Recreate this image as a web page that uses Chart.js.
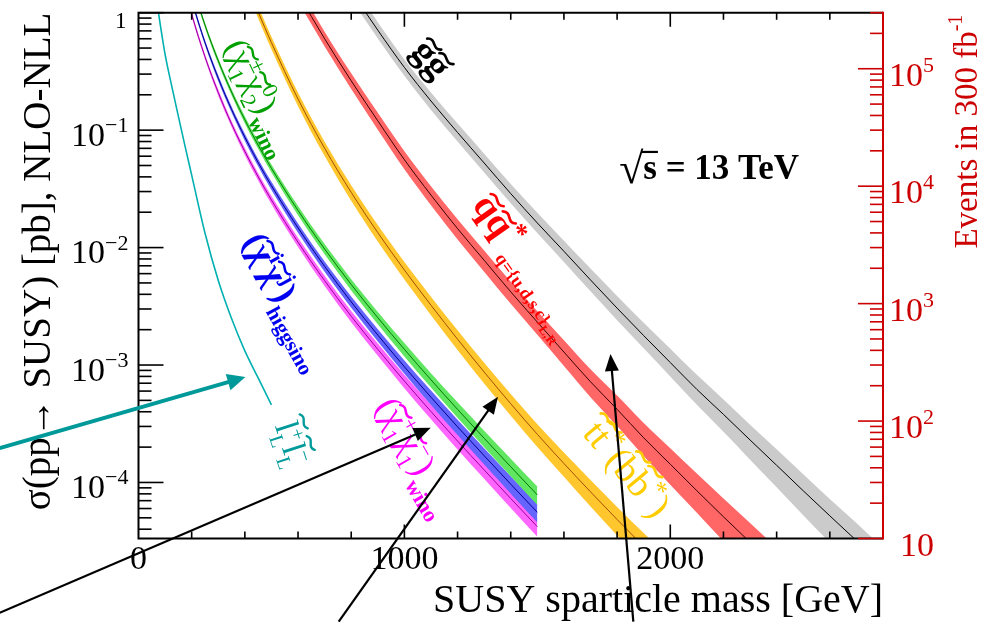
<!DOCTYPE html>
<html>
<head>
<meta charset="utf-8">
<script src="https://cdn.jsdelivr.net/npm/chart.js@4/dist/chart.umd.min.js"></script>
<style>
  html, body { margin: 0; padding: 0; background: #fff; }
  canvas { display: block; }
</style>
</head>
<body>
<canvas id="c" width="997" height="622"></canvas>
<script>
// SUSY pair-production cross sections at sqrt(s) = 13 TeV (NLO-NLL), in pb, vs sparticle mass in GeV.
// Bands: relative scale+PDF uncertainty in percent (upper / lower).

// gluino pairs
const massGluino   = [800, 900, 1000, 1100, 1200, 1300, 1400, 1500, 1600, 1700, 1800, 1900, 2000, 2100, 2200, 2300, 2400, 2500, 2600, 2700, 2800];
const xsecGluino   = [1.53, 0.71, 0.342, 0.177, 0.0955, 0.0525, 0.0288, 0.0162, 0.0093, 0.0053, 0.00305, 0.00178, 0.00105, 0.00062, 0.00038, 0.00023, 0.00014, 0.000085, 0.000052, 0.000032, 0.0000195];
const uncUpGluino  = [17, 17, 17, 18, 19, 20, 21, 22, 23, 25, 27, 29, 31, 33, 34, 35, 37, 38, 39, 41, 42];
const uncDnGluino  = [15, 15, 15, 16, 16, 17, 17, 18, 19, 20, 21, 22, 24, 26, 29, 32, 35, 38, 41, 45, 48];

// squark-antisquark, q = u,d,s,c (L,R)
const massSquark   = [600, 700, 800, 900, 1000, 1100, 1200, 1300, 1400, 1500, 1600, 1700, 1800, 1900, 2000, 2100, 2200, 2300, 2400];
const xsecSquark   = [1.45, 0.60, 0.263, 0.12, 0.056, 0.028, 0.0145, 0.0078, 0.0042, 0.00232, 0.00129, 0.00072, 0.00042, 0.00024, 0.000143, 0.000085, 0.000051, 0.000031, 0.0000186];
const uncUpSquark  = [15, 15, 16, 17, 18, 19, 20, 21, 22, 24, 26, 28, 31, 34, 37, 40, 43, 46, 49];
const uncDnSquark  = [14, 14, 15, 16, 17, 18, 19, 20, 21, 22, 24, 26, 28, 30, 33, 35, 38, 41, 44];

// stop (sbottom) pairs
const massStop     = [400, 450, 500, 600, 700, 800, 900, 1000, 1100, 1200, 1300, 1400, 1500, 1600, 1700, 1800, 1900, 2000];
const xsecStop     = [2.0, 1.02, 0.556, 0.184, 0.070, 0.0295, 0.0134, 0.00644, 0.00323, 0.00166, 0.000871, 0.000468, 0.000257, 0.000145, 0.0000832, 0.0000484, 0.0000285, 0.0000170];
const uncUpStop    = [12, 12, 12, 13, 14, 15, 16, 17, 18, 19, 20, 21, 22, 24, 26, 28, 30, 32];
const uncDnStop    = [12, 12, 12, 13, 14, 15, 16, 17, 18, 19, 20, 21, 22, 23, 25, 27, 29, 31];

// electroweakinos
const massEwk      = [150, 200, 250, 300, 350, 400, 450, 500, 600, 700, 800, 900, 1000, 1100, 1200, 1300, 1400, 1500];
const xsecWinoC1N2 = [5.01, 1.81, 0.785, 0.389, 0.211, 0.1225, 0.0746, 0.0473, 0.0207, 0.00973, 0.00485, 0.00253, 0.00136, 0.000748, 0.000419, 0.000238, 0.000136, 0.0000783];
const xsecHiggsino = [3.56, 1.29, 0.558, 0.277, 0.150, 0.0871, 0.0530, 0.0336, 0.0147, 0.00692, 0.00345, 0.00180, 0.000967, 0.000532, 0.000298, 0.000169, 0.0000967, 0.0000557];
const xsecWinoC1C1 = [2.69, 0.972, 0.422, 0.209, 0.113, 0.0658, 0.0401, 0.0254, 0.0111, 0.00523, 0.00260, 0.00136, 0.000730, 0.000402, 0.000225, 0.000128, 0.0000730, 0.0000420];
const uncEwk       = [5, 5, 5, 6, 6, 7, 7, 8, 9, 10, 11, 12, 13, 14, 15, 16, 17, 18];

// left-handed sleptons
const massSlepton  = [60, 75, 100, 125, 150, 175, 200, 250, 300, 350, 400, 450, 500];
const xsecSlepton  = [1.66, 1.0, 0.442, 0.237, 0.131, 0.0731, 0.0414, 0.0133, 0.00525, 0.00249, 0.00132, 0.000776, 0.000457];

// axes
const massAxisMax    = 2800;
const lumiInvPb      = 300000;   // 300 fb^-1
const eventsAxisMin  = 10;
const xsecAxisMax    = 1;
const massTickStep   = 200;
const massLabelTicks = [0, 1000, 2000];
const xsecDecades    = [-4, -3, -2, -1, 0];
const eventsDecades  = [1, 2, 3, 4, 5];

// arrows pointing at the curves: [mass, xsec] tail -> head
const arrowTails = [[-522, 7.78e-6], [753, 6.53e-6], [1861, 6.53e-6], [-522, 1.96e-4]];
const arrowHeads = [[1099, 2.92e-4], [1352, 5.36e-4], [1775, 1.24e-3], [402, 7.89e-4]];

// ------------------------------------------------------------------
const SERIF = '"Liberation Serif", "Times New Roman", serif';
const RED_AXIS = '#cc0000';
function F(size, bold, italic) { return (italic ? 'italic ' : '') + (bold ? 'bold ' : '') + size + 'px ' + SERIF; }

function pts(m, s) { return m.map((v, i) => ({ x: v, y: s[i] })); }
function shifted(m, s, pct, sign) { return m.map((v, i) => ({ x: v, y: s[i] * (1 + sign * pct[i] / 100) })); }

function bandSets(m, s, up, dn, fillColor, lineColor, lineW, ord) {
  const common = { pointRadius: 0, pointHoverRadius: 0, cubicInterpolationMode: 'monotone' };
  return [
    Object.assign({ data: shifted(m, s, up, 1), borderWidth: 0, borderColor: 'transparent', backgroundColor: fillColor, fill: '+1', order: ord }, common),
    Object.assign({ data: shifted(m, s, dn, -1), borderWidth: 0, borderColor: 'transparent', fill: false, order: ord }, common),
    Object.assign({ data: pts(m, s), borderColor: lineColor, borderWidth: lineW, fill: false, order: ord - 0.5 }, common)
  ];
}

const datasets = [].concat(
  bandSets(massGluino, xsecGluino, uncUpGluino, uncDnGluino, '#cbcbcb', '#000000', 1, 10),
  bandSets(massSquark, xsecSquark, uncUpSquark, uncDnSquark, '#ff6666', '#3a0000', 1, 9),
  bandSets(massStop, xsecStop, uncUpStop, uncDnStop, '#ffc62e', '#a34f00', 1, 8),
  bandSets(massEwk, xsecWinoC1C1, uncEwk, uncEwk, '#ff66ff', '#990099', 1, 7),
  bandSets(massEwk, xsecHiggsino, uncEwk, uncEwk, '#6464ff', '#00008a', 1, 6),
  bandSets(massEwk, xsecWinoC1N2, uncEwk, uncEwk, '#60e660', '#007a00', 1, 5),
  [{ data: pts(massSlepton, xsecSlepton), borderColor: '#00b0b0', borderWidth: 1.6, fill: false, order: 4,
     pointRadius: 0, pointHoverRadius: 0, cubicInterpolationMode: 'monotone' }]
);

// ---- rich text (tildes, super/subscripts) ----
function drawTilde(ctx, cx, yb, size, h) {
  const w = size * 0.46, a = size * 0.08, yT = yb - size * h;
  ctx.save();
  ctx.lineWidth = Math.max(1.4, size * 0.07);
  ctx.strokeStyle = ctx.fillStyle;
  ctx.lineCap = 'round';
  ctx.beginPath();
  ctx.moveTo(cx - w / 2, yT + a * 0.6);
  ctx.bezierCurveTo(cx - w / 6, yT - a * 2.0, cx + w / 6, yT + a * 2.0, cx + w / 2, yT - a * 0.6);
  ctx.stroke();
  ctx.restore();
}
function segWidth(ctx, s) {
  if (s.sup !== undefined || s.sub !== undefined) {
    ctx.font = F(s.s, s.b);
    const a = s.sup ? ctx.measureText(s.sup).width : 0;
    const b = s.sub ? ctx.measureText(s.sub).width : 0;
    return Math.max(a, b) + (s.gap || 1);
  }
  ctx.font = F(s.s, s.b, s.i);
  return ctx.measureText(s.t).width;
}
function drawRich(ctx, segs, px, py, angle, color, base) {
  ctx.save();
  ctx.translate(px, py);
  ctx.rotate(angle * Math.PI / 180);
  ctx.fillStyle = color;
  ctx.textAlign = 'left';
  ctx.textBaseline = 'alphabetic';
  let W = 0;
  for (const s of segs) W += segWidth(ctx, s);
  let x = -W / 2;
  for (const s of segs) {
    const w = segWidth(ctx, s);
    if (s.sup !== undefined || s.sub !== undefined) {
      ctx.font = F(s.s, s.b);
      if (s.sup) ctx.fillText(s.sup, x, base + (s.supDy !== undefined ? s.supDy : -s.s * 0.65));
      if (s.sub) ctx.fillText(s.sub, x, base + (s.subDy !== undefined ? s.subDy : s.s * 0.45));
    } else {
      ctx.font = F(s.s, s.b, s.i);
      const y0 = base + (s.dy || 0);
      ctx.fillText(s.t, x, y0);
      if (s.tilde) {
        let off = 0;
        for (const ch of s.t) {
          const cw = ctx.measureText(ch).width;
          drawTilde(ctx, x + off + cw / 2, y0, s.s, s.th || 0.66);
          off += cw;
        }
      }
    }
    x += w;
  }
  ctx.restore();
}

// curve labels, anchored in (mass, xsec)
const curveLabels = [
  { at: [1099, 0.40], angle: 50, color: '#000000', base: 11,
    segs: [{ t: 'gg', s: 38, b: true, tilde: true, th: 0.62 }] },
  { at: [455, 0.19], angle: 64, color: '#00a000', base: 9,
    segs: [{ t: '(', s: 34 }, { t: 'χ', s: 34, tilde: true, th: 0.66 }, { sup: '±', sub: '1', s: 22 },
           { t: 'χ', s: 34, tilde: true, th: 0.66 }, { sup: '0', sub: '2', s: 22 }, { t: ')', s: 34 },
           { t: 'wino', s: 22, b: true, dy: 12 }] },
  { at: [555, 0.00350], angle: 61, color: '#0000f0', base: 9,
    segs: [{ t: '(', s: 36, b: true }, { t: 'χ', s: 36, b: true, tilde: true, th: 0.66 }, { sup: 'i', s: 22, b: true },
           { t: 'χ', s: 36, b: true, tilde: true, th: 0.66 }, { sup: 'j', s: 22, b: true }, { t: ')', s: 36, b: true },
           { t: 'higgsino', s: 21, b: true, dy: 14 }] },
  { at: [1040, 1.65e-4], angle: 60, color: '#ff00ff', base: 9,
    segs: [{ t: '(', s: 36 }, { t: 'χ', s: 36, tilde: true, th: 0.66 }, { sup: '+', sub: '1', s: 22 },
           { t: 'χ', s: 36, tilde: true, th: 0.66 }, { sup: '−', sub: '1', s: 22 }, { t: ')', s: 36 },
           { t: 'wino', s: 22, b: true, dy: 14 }] },
  { at: [1455, 0.0070], angle: 55, color: '#ff0000', base: 9,
    segs: [{ t: 'qq', s: 38, b: true, tilde: true, th: 0.62 }, { sup: '*', s: 27, b: true, supDy: -14 },
           { t: 'q={u,d,s,c}', s: 18, b: true, dy: 12 }, { t: 'L,R', s: 13, b: true, dy: 17 }] },
  { at: [1834, 1.28e-4], angle: 50, color: '#ffcc00', base: 11,
    segs: [{ t: 'tt', s: 38, tilde: true, th: 0.78 }, { sup: '*', s: 26, supDy: -15 }, { t: '(', s: 38 },
           { t: 'bb', s: 38, tilde: true, th: 0.85 }, { sup: '*', s: 26, supDy: -15 }, { t: ')', s: 38 }] },
  { at: [571, 2.1e-4], angle: 72, color: '#009a9a', base: 9,
    segs: [{ t: 'l', s: 34, tilde: true, th: 0.85 }, { sup: '+', sub: 'L', s: 20 },
           { t: 'l', s: 34, tilde: true, th: 0.85 }, { sup: '−', sub: 'L', s: 20 }] }
];
const energyLabelAt = [2146, 0.0486];

function drawArrow(ctx, x0, y0, x1, y1, color, lw, hl, hw) {
  const dx = x1 - x0, dy = y1 - y0, L = Math.hypot(dx, dy);
  const ux = dx / L, uy = dy / L, nx = -uy, ny = ux;
  ctx.save();
  ctx.strokeStyle = color; ctx.fillStyle = color; ctx.lineWidth = lw;
  ctx.beginPath();
  ctx.moveTo(x0, y0);
  ctx.lineTo(x1 - ux * hl * 0.8, y1 - uy * hl * 0.8);
  ctx.stroke();
  ctx.beginPath();
  ctx.moveTo(x1, y1);
  ctx.lineTo(x1 - ux * hl + nx * hw / 2, y1 - uy * hl + ny * hw / 2);
  ctx.lineTo(x1 - ux * hl - nx * hw / 2, y1 - uy * hl - ny * hw / 2);
  ctx.closePath();
  ctx.fill();
  ctx.restore();
}

const frame = {
  id: 'frame',
  afterDraw(chart) {
    const { ctx, chartArea: a } = chart;
    const x = chart.scales.x, y = chart.scales.y, y2 = chart.scales.y2;
    ctx.save();

    // --- axis lines ---
    ctx.lineWidth = 2;
    ctx.strokeStyle = '#000';
    ctx.beginPath();
    ctx.moveTo(a.right, a.top); ctx.lineTo(a.left, a.top); ctx.lineTo(a.left, a.bottom); ctx.lineTo(a.right, a.bottom);
    ctx.stroke();
    ctx.strokeStyle = RED_AXIS;
    ctx.beginPath(); ctx.moveTo(a.right, a.top - 1); ctx.lineTo(a.right, a.bottom + 1); ctx.stroke();

    // --- mass ticks (bottom and top, pointing inward) ---
    ctx.strokeStyle = '#000';
    ctx.lineWidth = 1.6;
    for (let m = massTickStep; m < massAxisMax; m += massTickStep) {
      const px = x.getPixelForValue(m);
      const len = (m % 1000 === 0) ? 14 : 7;
      ctx.beginPath();
      ctx.moveTo(px, a.bottom); ctx.lineTo(px, a.bottom - len);
      ctx.moveTo(px, a.top); ctx.lineTo(px, a.top + len);
      ctx.stroke();
    }

    // --- log ticks, left (pb) and right (events) ---
    function logTicks(scale, x0, dir, color) {
      ctx.strokeStyle = color;
      ctx.lineWidth = 1.6;
      const lo = Math.floor(Math.log10(scale.min)), hi = Math.ceil(Math.log10(scale.max));
      for (let e = lo; e <= hi; e++) {
        for (let k = 1; k <= 9; k++) {
          const v = k * Math.pow(10, e);
          if (v < scale.min * 0.999 || v > scale.max * 1.001) continue;
          const py = scale.getPixelForValue(v);
          const len = (k === 1) ? 25 : 13;
          ctx.beginPath(); ctx.moveTo(x0, py); ctx.lineTo(x0 + dir * len, py); ctx.stroke();
        }
      }
    }
    logTicks(y, a.left, 1, '#000');
    logTicks(y2, a.right, -1, RED_AXIS);

    // --- tick labels ---
    ctx.textBaseline = 'alphabetic';
    ctx.fillStyle = '#000';
    ctx.font = F(34);
    ctx.textAlign = 'center';
    for (const m of massLabelTicks) ctx.fillText(String(m), x.getPixelForValue(m), a.bottom + 30);

    for (const e of xsecDecades) {
      const py = y.getPixelForValue(Math.pow(10, e));
      const right = a.left - 10;
      if (e === 0) {
        ctx.font = F(23); ctx.textAlign = 'right';
        ctx.fillText('1', right - 2, py + 15.5);
        continue;
      }
      const sup = '\u2212' + (-e);
      ctx.font = F(22); const ws = ctx.measureText(sup).width;
      ctx.font = F(34); const wb = ctx.measureText('10').width;
      ctx.textAlign = 'left';
      ctx.fillText('10', right - ws - wb, py + 15.5);
      ctx.font = F(22);
      ctx.fillText(sup, right - ws, py + 2);
    }

    ctx.fillStyle = RED_AXIS;
    for (const e of eventsDecades) {
      const py = y2.getPixelForValue(Math.pow(10, e));
      ctx.textAlign = 'left';
      ctx.font = F(34);
      if (e === 1) { ctx.fillText('10', a.right + 17, py + 17); continue; }
      const left = a.right + 6;
      const wb = ctx.measureText('10').width;
      ctx.fillText('10', left, py + 17);
      ctx.font = F(22);
      ctx.fillText(String(e), left + wb, py + 3);
    }

    // --- axis titles ---
    ctx.fillStyle = '#000';
    ctx.font = F(40);
    ctx.textAlign = 'right';
    ctx.fillText('SUSY sparticle mass [GeV]', a.right, 612);

    ctx.save();
    ctx.translate(50, a.top);
    ctx.rotate(-Math.PI / 2);
    ctx.font = F(39);
    ctx.textAlign = 'right';
    ctx.fillText('σ(pp→ SUSY) [pb], NLO-NLL', 0, 0);
    ctx.restore();

    ctx.save();
    ctx.translate(977, a.top + 2);
    ctx.rotate(-Math.PI / 2);
    ctx.fillStyle = RED_AXIS;
    ctx.font = F(20);
    const wSup = ctx.measureText('-1').width;
    ctx.textAlign = 'right';
    ctx.fillText('-1', 0, -15);
    ctx.font = F(33);
    ctx.fillText('Events in 300 fb', -wSup, 0);
    ctx.restore();

    // --- curve labels ---
    for (const l of curveLabels) {
      drawRich(ctx, l.segs, x.getPixelForValue(l.at[0]), y.getPixelForValue(l.at[1]), l.angle, l.color, l.base);
    }

    // --- sqrt(s) = 13 TeV ---
    {
      const cx = x.getPixelForValue(energyLabelAt[0]), cy = y.getPixelForValue(energyLabelAt[1]);
      ctx.fillStyle = '#000';
      ctx.textAlign = 'left';
      ctx.font = F(44);
      const wr = ctx.measureText('√').width;
      ctx.font = F(35, true);
      const ws = ctx.measureText('s').width, wt = ctx.measureText(' = 13 TeV').width;
      const x0 = cx - (wr + ws + wt) / 2, yb = cy + 12;
      ctx.font = F(44);
      ctx.fillText('√', x0, yb + 4);
      ctx.font = F(35, true);
      ctx.fillText('s', x0 + wr, yb);
      ctx.fillText(' = 13 TeV', x0 + wr + ws, yb);
      ctx.lineWidth = 2.2;
      ctx.strokeStyle = '#000';
      ctx.beginPath(); ctx.moveTo(x0 + wr - 2, yb - 27); ctx.lineTo(x0 + wr + ws + 1, yb - 27); ctx.stroke();
    }

    // --- arrows ---
    arrowTails.forEach((t, i) => {
      const h = arrowHeads[i];
      const teal = (i === 3);
      drawArrow(ctx, x.getPixelForValue(t[0]), y.getPixelForValue(t[1]), x.getPixelForValue(h[0]), y.getPixelForValue(h[1]),
        teal ? '#009999' : '#000000', teal ? 4 : 2.2, teal ? 18 : 17, teal ? 17 : 14);
    });

    ctx.restore();
  }
};

new Chart(document.getElementById('c'), {
  type: 'line',
  data: { datasets: datasets },
  options: {
    responsive: false,
    animation: false,
    devicePixelRatio: 1,
    layout: { padding: { top: 12.7, left: 0, right: 0, bottom: 0 } },
    plugins: { legend: { display: false }, tooltip: { enabled: false } },
    events: [],
    scales: {
      x: { type: 'linear', min: 0, max: massAxisMax,
           ticks: { display: false }, grid: { display: false, drawTicks: false }, border: { display: false },
           afterFit(s) { s.height = 83.5; } },
      y: { type: 'logarithmic', position: 'left', min: eventsAxisMin / lumiInvPb, max: xsecAxisMax,
           ticks: { display: false }, grid: { display: false, drawTicks: false }, border: { display: false },
           afterFit(s) { s.width = 138.5; } },
      y2: { type: 'logarithmic', position: 'right', min: eventsAxisMin, max: xsecAxisMax * lumiInvPb,
            ticks: { display: false }, grid: { display: false, drawTicks: false }, border: { display: false },
            afterFit(s) { s.width = 114; } }
    }
  },
  plugins: [frame]
});
</script>
</body>
</html>
